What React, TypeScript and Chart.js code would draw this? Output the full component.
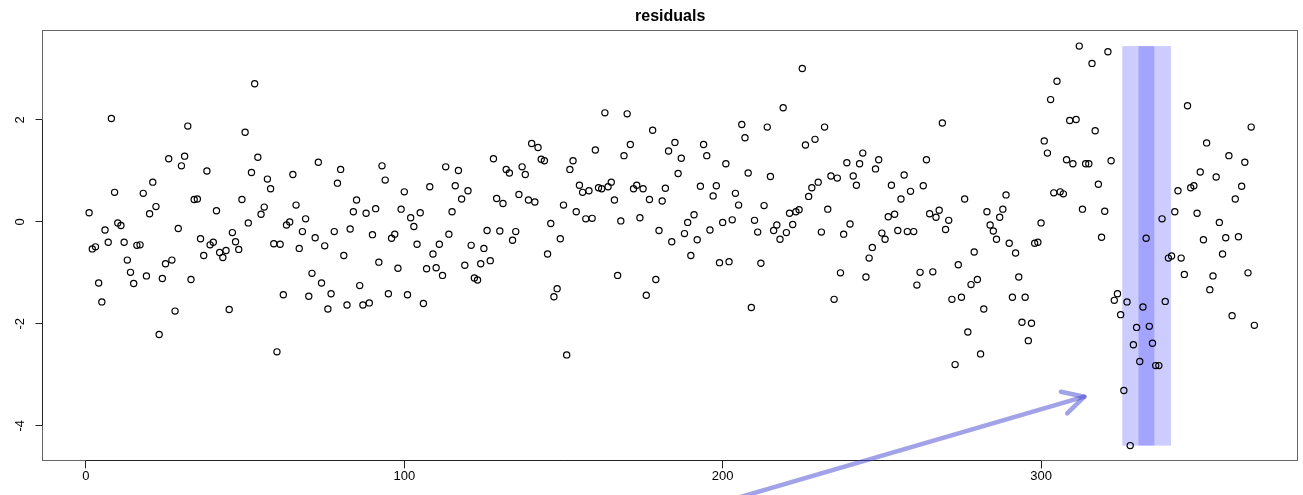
import React, { useEffect, useRef } from "react";
import { Chart, registerables } from "chart.js";

Chart.register(...registerables);

const chartTitle = "residuals";

const residuals: number[] = [
  0.18, -0.53, -0.49, -1.2, -1.57, -0.16, -0.4, 2.03, 0.58, -0.02,
  -0.07, -0.4, -0.75, -0.99, -1.21, -0.46, -0.45, 0.56, -1.06, 0.16,
  0.78, 0.3, -2.21, -1.11, -0.82, 1.24, -0.75, -1.75, -0.13, 1.1,
  1.29, 1.88, -1.13, 0.44, 0.45, -0.33, -0.66, 1.0, -0.45, -0.4,
  0.22, -0.6, -0.7, -0.56, -1.72, -0.21, -0.39, -0.54, 0.44, 1.76,
  -0.02, 0.97, 2.71, 1.27, 0.15, 0.29, 0.84, 0.65, -0.43, -2.55,
  -0.44, -1.43, -0.06, 0.0, 0.93, 0.33, -0.52, -0.19, 0.06, -1.46,
  -1.01, -0.31, 1.17, -1.2, -0.47, -1.71, -1.41, -0.19, 0.76, 1.03,
  -0.66, -1.63, -0.14, 0.2, 0.43, -1.25, -1.63, 0.17, -1.59, -0.25,
  0.26, -0.79, 1.1, 0.82, -1.41, -0.32, -0.24, -0.91, 0.25, 0.59,
  -1.43, 0.08, -0.09, -0.44, 0.18, -1.6, -0.92, 0.69, -0.63, -0.9,
  -0.44, -1.05, 1.08, -0.24, 0.2, 0.71, 1.01, 0.45, -0.85, 0.61,
  -0.46, -1.1, -1.14, -0.82, -0.52, -0.17, -0.76, 1.24, 0.46, -0.18,
  0.36, 1.03, 0.96, -0.36, -0.19, 0.54, 1.08, 0.93, 0.43, 1.54,
  0.39, 1.46, 1.23, 1.2, -0.63, -0.03, -1.47, -1.31, -0.33, 0.33,
  -2.61, 1.03, 1.2, 0.2, 0.72, 0.58, 0.06, 0.61, 0.07, 1.41,
  0.67, 0.65, 2.14, 0.69, 0.78, 0.43, -1.05, 0.02, 1.3, 2.12,
  1.52, 0.65, 0.72, 0.08, 0.65, -1.44, 0.44, 1.8, -1.13, -0.17,
  0.41, 0.66, 1.39, -0.39, 1.56, 0.95, 1.25, -0.23, -0.01, -0.66,
  0.14, -0.35, 0.7, 1.52, 1.3, -0.16, 0.51, 0.71, -0.8, -0.01,
  1.14, -0.78, 0.04, 0.56, 0.33, 1.91, 1.65, 0.96, -1.68, 0.03,
  -0.2, -0.81, 0.32, 1.86, 0.89, -0.17, -0.06, -0.34, 2.24, -0.21,
  0.17, -0.05, 0.2, 0.24, 3.01, 1.51, 0.5, 0.67, 1.62, 0.78,
  -0.2, 1.86, 0.25, 0.9, -1.52, 0.86, -1.0, -0.24, 1.16, -0.04,
  0.9, 0.72, 1.14, 1.35, -1.08, -0.71, -0.5, 1.04, 1.22, -0.22,
  -0.34, 0.1, 0.72, 0.15, -0.17, 0.45, 0.92, -0.19, 0.6, -0.19,
  -1.24, -0.99, 0.71, 1.22, 0.16, -0.98, 0.09, 0.23, 1.94, -0.15,
  0.03, -1.52, -2.8, -0.84, -1.48, 0.45, -2.16, -1.23, -0.59, -1.13,
  -2.59, -1.71, 0.2, -0.06, -0.18, -0.34, 0.09, 0.25, 0.53, -0.42,
  -1.48, -0.61, -1.08, -1.97, -1.48, -2.33, -1.99, -0.42, -0.4, -0.02,
  1.59, 1.35, 2.4, 0.57, 2.76, 0.59, 0.55, 1.22, 1.99, 1.14,
  2.01, 3.45, 0.25, 1.14, 1.14, 3.11, 1.79, 0.74, -0.3, 0.21,
  3.34, 1.2, -1.54, -1.41, -1.82, -3.31, -1.57, -4.39, -2.41, -2.07,
  -2.74, -1.67, -0.32, -2.05, -2.38, -2.82, -2.82, 0.06, -1.56, -0.71,
  -0.67, 0.2, 0.61, -0.71, -1.03, 2.28, 0.67, 0.71, 0.17, 0.98,
  -0.35, 1.55, -1.33, -1.06, 0.88, -0.01, -0.63, -0.31, 1.3, -1.84,
  0.45, -0.29, 0.7, 1.17, -1.0, 1.86, -2.03,
];

const obsIndex: number[] = residuals.map((_, i) => i + 1);

const xTicks = [0, 100, 200, 300];
const yTicks = [-4, -2, 0, 2];
const xRange = [-13.64, 380.64];
const yRange = [-4.7, 3.76];

// highlighted window (observation index)
const bandOuter = [325.5, 340.8];
const bandInner = [330.6, 335.6];

// arrow (data coordinates)
const arrowFrom = [200, -5.5];
const arrowTo = [313.6, -3.43];

const FONT = '"Liberation Sans", Arial, Helvetica, sans-serif';

const decorPlugin = {
  id: "decor",
  beforeDatasetsDraw(chart: any) {
    const { ctx, scales } = chart;
    const x = scales.x;
    const y = scales.y;
    const yTop = y.getPixelForValue(Math.max(...residuals));
    const yBot = y.getPixelForValue(Math.min(...residuals));
    ctx.save();
    ctx.fillStyle = "rgba(0,0,255,0.2)";
    for (const [a, b] of [bandOuter, bandInner]) {
      const xa = x.getPixelForValue(a);
      const xb = x.getPixelForValue(b);
      ctx.fillRect(xa, yTop, xb - xa, yBot - yTop);
    }
    ctx.restore();
  },
  afterDraw(chart: any) {
    const { ctx, chartArea, scales } = chart;
    const x = scales.x;
    const y = scales.y;
    ctx.save();
    // box
    const l = Math.round(chartArea.left) - 0.5;
    const r = Math.round(chartArea.right) - 0.5;
    const t = Math.round(chartArea.top) + 0.5;
    const b = Math.round(chartArea.bottom) - 0.5;
    ctx.strokeStyle = "#666";
    ctx.lineWidth = 1;
    ctx.strokeRect(l, t, r - l, b - t);
    // axis lines
    ctx.strokeStyle = "#222";
    ctx.beginPath();
    ctx.moveTo(x.getPixelForValue(xTicks[0]), b);
    ctx.lineTo(x.getPixelForValue(xTicks[xTicks.length - 1]), b);
    ctx.moveTo(l, y.getPixelForValue(yTicks[0]));
    ctx.lineTo(l, y.getPixelForValue(yTicks[yTicks.length - 1]));
    ctx.stroke();

    // arrow
    const x0 = x.getPixelForValue(arrowFrom[0]);
    const y0 = y.getPixelForValue(arrowFrom[1]);
    const x1 = x.getPixelForValue(arrowTo[0]);
    const y1 = y.getPixelForValue(arrowTo[1]);
    const ang = Math.atan2(y1 - y0, x1 - x0);
    const len = 24;
    const spread = (28 * Math.PI) / 180;
    ctx.strokeStyle = "rgba(70,70,210,0.5)";
    ctx.lineWidth = 4.5;
    ctx.lineCap = "round";
    ctx.lineJoin = "round";
    ctx.beginPath();
    ctx.moveTo(x0, y0);
    ctx.lineTo(x1, y1);
    ctx.stroke();
    ctx.beginPath();
    ctx.moveTo(x1 - len * Math.cos(ang - spread), y1 - len * Math.sin(ang - spread));
    ctx.lineTo(x1, y1);
    ctx.lineTo(x1 - len * Math.cos(ang + spread), y1 - len * Math.sin(ang + spread));
    ctx.stroke();

    // title
    ctx.fillStyle = "#000";
    ctx.font = `bold 16px ${FONT}`;
    ctx.textAlign = "center";
    ctx.textBaseline = "alphabetic";
    ctx.fillText(chartTitle, (chartArea.left + chartArea.right) / 2, 20.7);
    ctx.restore();
  },
};

export default function App() {
  const canvasRef = useRef<HTMLCanvasElement | null>(null);

  useEffect(() => {
    const canvas = canvasRef.current;
    if (!canvas) return;
    const chart = new Chart(canvas, {
      type: "scatter",
      data: {
        datasets: [
          {
            label: chartTitle,
            data: obsIndex.map((xi, i) => ({ x: xi, y: residuals[i] })),
            pointStyle: "circle",
            pointRadius: 3.1,
            pointBorderWidth: 1.2,
            pointBorderColor: "#000",
            pointBackgroundColor: "rgba(0,0,0,0)",
            showLine: false,
          },
        ],
      },
      options: {
        responsive: false,
        animation: false,
        devicePixelRatio: 1,
        layout: { padding: { top: 30.3, right: 3.5, left: 0, bottom: 0 } },
        plugins: {
          legend: { display: false },
          tooltip: { enabled: false },
          title: { display: false },
        },
        scales: {
          x: {
            type: "linear",
            min: xRange[0],
            max: xRange[1],
            afterBuildTicks: (scale: any) => {
              scale.ticks = xTicks.map((v) => ({ value: v }));
            },
            afterFit: (scale: any) => {
              scale.height = 33.6;
              scale.paddingLeft = 0;
              scale.paddingRight = 0;
              scale.paddingTop = 0;
              scale.paddingBottom = 0;
            },
            border: { display: false },
            grid: {
              drawOnChartArea: false,
              drawTicks: true,
              tickLength: 7,
              tickColor: "#222",
              color: "#222",
              lineWidth: 1,
            },
            ticks: {
              autoSkip: false,
              maxRotation: 0,
              minRotation: 0,
              padding: 0,
              color: "#000",
              font: { family: FONT, size: 13 },
            },
          },
          y: {
            type: "linear",
            min: yRange[0],
            max: yRange[1],
            afterBuildTicks: (scale: any) => {
              scale.ticks = yTicks.map((v) => ({ value: v }));
            },
            afterFit: (scale: any) => {
              scale.width = 42.5;
              scale.paddingLeft = 0;
              scale.paddingRight = 0;
              scale.paddingTop = 0;
              scale.paddingBottom = 0;
            },
            border: { display: false },
            grid: {
              drawOnChartArea: false,
              drawTicks: true,
              tickLength: 7,
              tickColor: "#222",
              color: "#222",
              lineWidth: 1,
            },
            ticks: {
              autoSkip: false,
              minRotation: 90,
              maxRotation: 90,
              crossAlign: "center",
              padding: 9,
              color: "#000",
              font: { family: FONT, size: 13 },
            },
          },
        },
      },
      plugins: [decorPlugin],
    } as any);
    return () => chart.destroy();
  }, []);

  return (
    <div style={{ position: "absolute", left: 0, top: 0, width: 1303, height: 495, background: "#fff" }}>
      <canvas ref={canvasRef} width={1303} height={495} style={{ display: "block" }} />
    </div>
  );
}
